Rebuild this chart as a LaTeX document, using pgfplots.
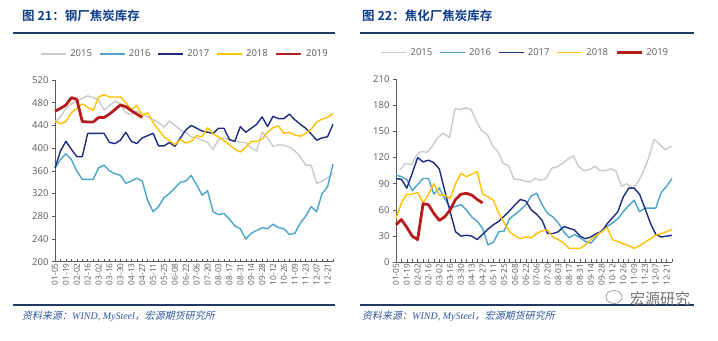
\documentclass[border=0pt]{standalone}
\usepackage{pgfplots}
\pgfplotsset{compat=1.18}
\usepackage{pgfplotstable}
\usepackage{fontspec}
\setmainfont{Open Sans}
\newfontfamily\cjk{Noto Sans CJK SC}
\newfontfamily\cjkb{Noto Sans CJK SC Bold}
\newfontfamily\cjkit[FakeSlant=0.2]{Noto Sans CJK SC}
\newfontfamily\serifit{Liberation Serif Italic}
\definecolor{c15}{HTML}{C9C9C9}
\definecolor{c16}{HTML}{4BA3CB}
\definecolor{c17}{HTML}{1B2B80}
\definecolor{c18}{HTML}{FFC000}
\definecolor{c19}{HTML}{B51C1C}
\definecolor{titleblue}{HTML}{0E3C8A}
\definecolor{rule}{HTML}{1F3864}
\definecolor{srcblue}{HTML}{2F5597}
\definecolor{txt}{HTML}{595959}

\pgfplotstableread{
i a15 a16 a17 a18 a19
0 446 365 365 448 465
1 455 380 395 443 470
2 470 390 412 447 476
3 478 380 398 462 489
4 483 360 385 470 486
5 488 345 385 478 447
6 492 345 426 472 446
7 489 345 426 466 446
8 485 365 426 490 454
9 467 370 426 494 454
10 475 360 410 490 460
11 483 355 408 490 468
12 478 352 414 490 476
13 462 338 428 480 473
14 459 342 412 468 466
15 465 347 408 475 460
16 460 342 418 458 454
17 455 308 422 462 nan
18 450 288 426 445 nan
19 445 297 404 432 nan
20 437 313 404 420 nan
21 448 320 410 413 nan
22 440 330 403 406 nan
23 432 340 418 415 nan
24 428 342 432 409 nan
25 420 352 440 412 nan
26 418 335 435 422 nan
27 414 317 430 420 nan
28 410 325 428 436 nan
29 398 288 426 425 nan
30 415 283 435 420 nan
31 418 285 435 413 nan
32 415 275 415 406 nan
33 412 263 412 398 nan
34 410 258 438 393 nan
35 410 240 428 402 nan
36 400 250 435 412 nan
37 395 255 442 412 nan
38 428 260 455 416 nan
39 418 258 438 428 nan
40 403 266 456 436 nan
41 406 260 452 439 nan
42 405 258 452 426 nan
43 402 248 460 428 nan
44 395 250 450 423 nan
45 385 268 442 421 nan
46 370 280 435 426 nan
47 370 297 425 433 nan
48 338 288 414 446 nan
49 342 320 418 451 nan
50 348 332 420 454 nan
51 355 372 442 461 nan
}\left

\pgfplotstableread{
i a16 a17 a18 a19
0 100 96 50 43
1 98 95 68 49
2 95 85 78 40
3 82 102 78 30
4 89 120 80 26
5 96 115 68 67
6 96 117 78 66
7 78 114 90 56
8 85 107 77 48
9 73 82 77 52
10 62 58 73 60
11 64 35 90 72
12 66 30 102 78
13 60 31 98 79
14 52 30 101 77
15 47 26 104 72
16 39 32 78 68
17 20 38 75 nan
18 23 43 71 nan
19 35 47 56 nan
20 36 53 45 nan
21 50 59 35 nan
22 55 66 30 nan
23 60 72 27 nan
24 66 70 29 nan
25 76 60 28 nan
26 79 55 33 nan
27 66 48 36 nan
28 56 33 37 nan
29 52 33 29 nan
30 45 35 26 nan
31 35 41 22 nan
32 28 39 16 nan
33 32 37 16 nan
34 28 30 16 nan
35 24 27 20 nan
36 22 29 26 nan
37 29 33 31 nan
38 37 35 35 nan
39 41 44 40 nan
40 45 51 26 nan
41 50 58 24 nan
42 58 75 21 nan
43 65 85 19 nan
44 71 85 16 nan
45 58 78 19 nan
46 62 62 23 nan
47 62 45 27 nan
48 62 32 31 nan
49 80 29 33 nan
50 87 30 35 nan
51 96 31 38 nan
}\right

\pgfplotstableread{
i a15
0.7 106
1.7 113
2.9 112
3.8 123
4.7 127
5.7 126
6.6 132
7.6 142
8.7 148
9.9 143
10.9 176
11.8 175
12.9 177
13.9 175
14.9 161
15.8 151
16.9 146
17.9 133
18.9 126
19.8 113
20.8 111
21.8 95
22.8 95
23.8 93
24.8 92
25.7 96
26.7 94
27.7 96
28.8 108
29.7 109
30.7 113
31.7 118
32.8 122
33.7 110
34.7 105
35.7 106
36.8 110
37.7 105
38.7 105
39.7 107
40.6 105
41.7 87
42.6 90
43.9 85
44.6 91
45.7 104
46.6 118
47.7 141
48.6 136
49.7 129
50.9 133
}\rightgray

\pgfplotsset{
  panel/.style={
    scale only axis,
    anchor=south west,
    xmin=0, xmax=51,
    axis x line*=bottom, axis y line*=left,
    axis line style={black!65, line width=0.6pt},
    xtick={0,2,...,50},
    minor xtick={1,3,...,51},
    xticklabels={01-05,01-19,02-02,02-16,03-02,03-16,03-30,04-13,04-27,05-11,05-25,06-08,06-22,07-06,07-20,08-03,08-17,08-31,09-14,09-28,10-12,10-26,11-09,11-23,12-07,12-21},
    x tick label style={rotate=90, anchor=east, font=\fontsize{8.3bp}{9bp}\selectfont, text=txt, inner sep=1.5bp},
    y tick label style={font=\fontsize{9.5bp}{10bp}\selectfont, text=txt},
    xtick align=inside, ytick align=outside,
    major tick length=3bp, minor tick length=3bp,
    tick style={black!65, line width=0.5pt},
    /pgf/number format/assume math mode=true,
    unbounded coords=jump,
    clip=false,
    legend columns=5,
    legend style={draw=none, fill=none, font=\fontsize{9.5bp}{10bp}\selectfont, text=txt,
      column sep=1.5bp, inner sep=0pt, /tikz/every even column/.append style={column sep=5bp}},
    legend image code/.code={\draw[#1] (0bp,0bp) -- (25bp,0bp);},
    every axis plot/.append style={line width=1.4pt, line join=round},
  }
}

\begin{document}
\begin{tikzpicture}
\path[use as bounding box] (0,0) rectangle (718bp,341bp);

% titles and rules
\node[anchor=west, inner sep=0pt, text=titleblue] at (22bp,325bp) {\fontsize{12.5bp}{13bp}\cjkb 图 21：钢厂焦炭库存};
\node[anchor=west, inner sep=0pt, text=titleblue] at (362bp,325bp) {\fontsize{12.5bp}{13bp}\cjkb 图 22：焦化厂焦炭库存};
\draw[rule, line width=1.6pt] (13bp,308bp) -- (335bp,308bp);
\draw[rule, line width=1.6pt] (360bp,308bp) -- (694bp,308bp);
\draw[rule, line width=1.6pt] (13bp,36bp) -- (335bp,36bp);
\draw[rule, line width=1.6pt] (360bp,36bp) -- (694bp,36bp);
\node[anchor=west, inner sep=0pt, text=srcblue] at (22bp,25bp) {\fontsize{10bp}{11bp}\cjkit 资料来源：{\serifit WIND, MySteel}，宏源期货研究所};
\node[anchor=west, inner sep=0pt, text=srcblue] at (362bp,25bp) {\fontsize{10bp}{11bp}\cjkit 资料来源：{\serifit WIND, MySteel}，宏源期货研究所};
\node[anchor=west, inner sep=0pt, text=black!55] at (630bp,42bp) {\fontsize{15bp}{16bp}\cjk 宏源研究};
\draw[black!45, line width=0.6pt] (614bp,44bp) ellipse (8bp and 6.5bp);

\begin{axis}[panel,
  at={(55bp,79.3bp)}, width=278bp, height=181.7bp,
  ymin=200, ymax=520, ytick={200,240,...,520},
  legend style={at={(0.468,1.143)}, anchor=center}]
\addplot[c15] table[x=i,y=a15] {\left};
\addplot[c16] table[x=i,y=a16] {\left};
\addplot[c17] table[x=i,y=a17] {\left};
\addplot[c18] table[x=i,y=a18] {\left};
\addplot[c19, line width=2.8pt] table[x=i,y=a19] {\left};
\legend{2015,2016,2017,2018,2019}
\end{axis}

\begin{axis}[panel,
  at={(396bp,78.7bp)}, width=276bp, height=183.3bp,
  ymin=0, ymax=210, ytick={0,30,...,210},
  legend style={at={(0.469,1.143)}, anchor=center}]
\addplot[c15] table[x=i,y=a15] {\rightgray};
\addplot[c16] table[x=i,y=a16] {\right};
\addplot[c17] table[x=i,y=a17] {\right};
\addplot[c18] table[x=i,y=a18] {\right};
\addplot[c19, line width=2.8pt] table[x=i,y=a19] {\right};
\legend{2015,2016,2017,2018,2019}
\end{axis}
\end{tikzpicture}
\end{document}
